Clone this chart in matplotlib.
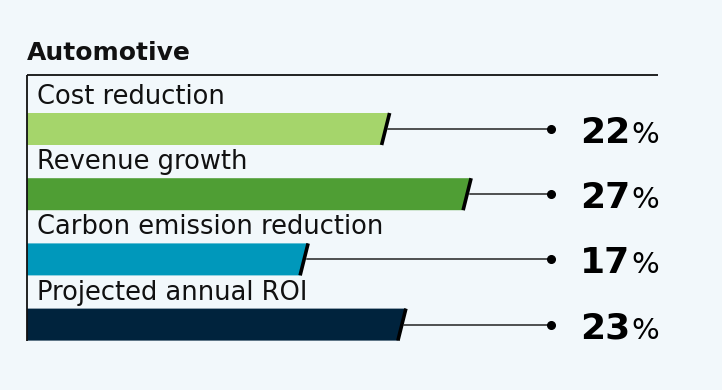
import matplotlib.pyplot as plt
from matplotlib.patches import Polygon

# data
title = "Automotive"
labels = ["Cost reduction", "Revenue growth", "Carbon emission reduction", "Projected annual ROI"]
values = [22, 27, 17, 23]
colors = ["#a5d56b", "#4f9e34", "#0098bb", "#00233d"]

BG = "#f2f8fb"
W, H = 722, 390
X0 = 27          # px where 0% sits
PX = 16.3        # px per percent
ROW0, ROWH = 129, 65.2   # px of first row centre, row spacing

plt.rcParams['font.family'] = ['DejaVu Sans']

fig = plt.figure(figsize=(W / 100, H / 100), dpi=100)
fig.patch.set_facecolor(BG)
ax = fig.add_axes([0, 0, 1, 1])
ax.set_facecolor(BG)
ax.set_xlim(-X0 / PX, (W - X0) / PX)
ax.set_ylim((H - ROW0) / ROWH, -ROW0 / ROWH)
ax.axis('off')

def px_x(p):
    return (p - X0) / PX

def px_y(p):
    return (p - ROW0) / ROWH

# frame: top rule and left rule
ax.plot([0, px_x(658)], [px_y(75), px_y(75)], color="#111111", lw=1.3, solid_capstyle='butt')
ax.plot([0, 0], [px_y(75), px_y(341)], color="#111111", lw=1.3, solid_capstyle='butt')

ax.text(0, px_y(60), title, fontsize=18, fontweight='bold', color="#111111",
        ha='left', va='baseline')

bh = 32 / ROWH      # bar height in row units
dx = 4 / PX         # half slant
dot_x = px_x(551)

for i, (lab, v, c) in enumerate(zip(labels, values, colors)):
    top, bot = i - bh / 2, i + bh / 2
    poly = Polygon([(0, top), (v + dx, top), (v - dx, bot), (0, bot)],
                   closed=True, facecolor=c, edgecolor='none')
    ax.add_patch(poly)
    ax.plot([v + dx, v - dx], [top, bot], color="#000000", lw=2.6, solid_capstyle='butt')
    ax.plot([v + 0.15, dot_x], [i, i], color="#222222", lw=1.1)
    ax.plot([dot_x], [i], 'o', color="#000000", ms=5.5)
    ax.text(px_x(37), i - 25 / ROWH, lab, fontsize=18.5, color="#111111",
            ha='left', va='baseline')
    ax.text(px_x(630), i + 14 / ROWH, str(v), fontsize=26, fontweight='bold',
            color="#000000", ha='right', va='baseline')
    ax.text(px_x(631), i + 14 / ROWH, "%", fontsize=21, color="#000000",
            ha='left', va='baseline')

fig.savefig("out.png", dpi=100, facecolor=BG)
